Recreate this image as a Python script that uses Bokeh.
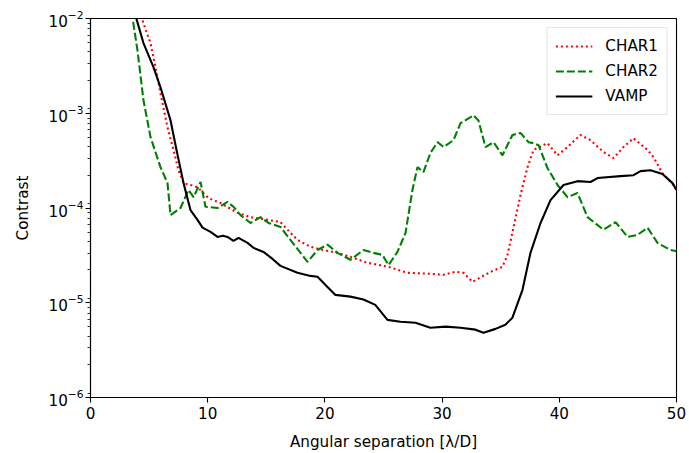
from bokeh.plotting import figure
from bokeh.models import Legend, LegendItem, LogTicker, FixedTicker
from bokeh.embed import file_html
from bokeh.resources import INLINE

# ---- data ----
vamp_x = [3.5, 4.52, 5.38, 5.97, 6.83, 7.34, 7.94, 8.53, 9.13, 9.56, 10.24, 10.84, 11.3, 11.69, 12.2,
          12.63, 13.4, 13.9, 14.76, 15.53, 16.21, 17.66, 18.77, 19.37, 20.22, 20.9, 22.18, 23.29, 24.3,
          25.34, 26.45, 27.73, 29.0, 30.3, 31.57, 32.85, 33.53, 34.56, 35.4, 36.0, 36.86, 37.54, 38.4,
          39.25, 40.36, 41.55, 42.66, 43.26, 45.22, 46.33, 46.93, 47.78, 48.8, 49.66, 50.0]
vamp_y = [1.5e-2, 5.5e-3, 3.05e-3, 1.88e-3, 8.4e-4, 4.1e-4, 1.83e-4, 9.5e-5, 7.5e-5, 6.2e-5, 5.6e-5,
          4.95e-5, 5.1e-5, 4.95e-5, 4.5e-5, 4.83e-5, 4.28e-5, 3.8e-5, 3.44e-5, 2.9e-5, 2.45e-5, 2.07e-5,
          1.92e-5, 1.88e-5, 1.47e-5, 1.21e-5, 1.16e-5, 1.08e-5, 9.5e-6, 6.6e-6, 6.3e-6, 6.15e-6, 5.45e-6,
          5.6e-6, 5.45e-6, 5.2e-6, 4.83e-6, 5.3e-6, 5.86e-6, 6.95e-6, 1.37e-5, 3.36e-5, 6.95e-5, 1.21e-4,
          1.75e-4, 1.92e-4, 1.88e-4, 2.07e-4, 2.17e-4, 2.22e-4, 2.45e-4, 2.5e-4, 2.28e-4, 1.83e-4, 1.55e-4]

char1_x = [4.2, 4.52, 5.12, 5.55, 5.97, 6.57, 7.08, 7.51, 7.94, 8.53, 9.13, 10.07, 11.09, 12.54, 13.65,
           15.1, 16.21, 16.81, 17.66, 18.77, 19.88, 21.08, 22.18, 23.63, 25.43, 27.05, 29.0, 30.12, 31.14,
           31.83, 32.59, 34.13, 35.15, 35.58, 36.09, 36.69, 37.29, 37.8, 38.99, 39.85, 40.7, 41.81, 42.66,
           43.77, 44.62, 45.48, 46.33, 47.53, 48.04, 48.8, 49.74, 50.0]
char1_y = [1.2e-2, 8.9e-3, 5.5e-3, 3.05e-3, 1.62e-3, 7.1e-4, 4.1e-4, 2.5e-4, 1.83e-4, 1.75e-4, 1.66e-4,
           1.27e-4, 1.13e-4, 8.9e-5, 8.0e-5, 7.5e-5, 7.1e-5, 5.9e-5, 4.6e-5, 3.9e-5, 3.6e-5, 3.36e-5,
           3.05e-5, 2.64e-5, 2.39e-5, 2.07e-5, 2.02e-5, 1.97e-5, 2.12e-5, 2.07e-5, 1.66e-5, 2.12e-5,
           2.39e-5, 3.2e-5, 6.2e-5, 1.37e-4, 2.7e-4, 4.1e-4, 4.83e-4, 3.6e-4, 4.4e-4, 5.9e-4, 5.2e-4,
           3.9e-4, 3.36e-4, 4.4e-4, 5.45e-4, 4.1e-4, 3.44e-4, 2.33e-4, 1.75e-4, 1.55e-4]

char2_x = [3.5, 3.58, 4.01, 4.52, 5.12, 5.97, 6.57, 6.83, 7.68, 8.36, 8.79, 9.39, 9.81, 10.84, 11.69,
           12.2, 12.8, 13.65, 14.5, 15.19, 16.21, 17.06, 17.92, 18.52, 19.37, 20.22, 21.08, 22.18, 23.29,
           24.15, 24.91, 25.43, 26.19, 26.88, 27.47, 27.9, 28.41, 29.0, 29.61, 30.12, 30.97, 31.57, 32.68,
           33.1, 33.7, 34.39, 35.15, 36.0, 36.69, 37.37, 37.8, 38.23, 38.99, 39.85, 40.7, 41.55, 42.41,
           43.77, 44.8, 45.82, 46.67, 47.53, 48.38, 49.49, 50.0]
char2_y = [1.2e-2, 1.02e-2, 4.6e-3, 1.37e-3, 5.6e-4, 2.7e-4, 1.83e-4, 8.4e-5, 1.0e-4, 1.55e-4, 1.3e-4,
           1.88e-4, 1.03e-4, 1.0e-4, 1.16e-4, 1.03e-4, 8.4e-5, 6.95e-5, 8.0e-5, 6.95e-5, 6.3e-5, 4.6e-5,
           3.36e-5, 2.7e-5, 3.6e-5, 4.1e-5, 3.36e-5, 2.84e-5, 3.6e-5, 3.36e-5, 3.2e-5, 2.5e-5, 3.44e-5,
           5.45e-5, 1.55e-4, 2.7e-4, 2.39e-4, 3.8e-4, 4.95e-4, 4.4e-4, 5.2e-4, 7.85e-4, 9.5e-4, 8.4e-4,
           4.4e-4, 4.95e-4, 3.6e-4, 5.9e-4, 6.2e-4, 4.95e-4, 4.83e-4, 4.6e-4, 2.64e-4, 1.75e-4, 1.3e-4,
           1.44e-4, 8.0e-5, 5.9e-5, 7.1e-5, 4.95e-5, 5.2e-5, 6.2e-5, 4.28e-5, 3.6e-5, 3.5e-5]

x_ticks = [0, 10, 20, 30, 40, 50]
series_names = ["CHAR1", "CHAR2", "VAMP"]

FONT = "DejaVu Sans"
FS = "15.2px"

p = figure(width=689, height=453, x_range=(0, 50), y_range=(1e-6, 1e-2), y_axis_type="log",
           output_backend="svg", toolbar_location=None,
           min_border_left=90, min_border_right=13, min_border_top=18, min_border_bottom=55)

p.xgrid.visible = False
p.ygrid.visible = False
p.outline_line_color = "black"
p.outline_line_width = 1.1
p.outline_line_alpha = 1.0

r1 = p.line(char1_x, char1_y, line_color="red", line_width=2.1, line_dash="2 3")
r2 = p.line(char2_x, char2_y, line_color="green", line_width=2.1, line_dash="8 3")
r3 = p.line(vamp_x, vamp_y, line_color="black", line_width=2.1)

p.xaxis.ticker = FixedTicker(ticks=x_ticks)
p.yaxis.ticker = LogTicker(num_minor_ticks=9)

for ax in (p.xaxis[0], p.yaxis[0]):
    ax.axis_line_color = "black"
    ax.axis_line_width = 1.1
    ax.major_tick_line_color = "black"
    ax.major_tick_line_width = 1.1
    ax.minor_tick_line_color = "black"
    ax.minor_tick_line_width = 0.8
    ax.major_tick_out = 5
    ax.major_tick_in = 0
    ax.minor_tick_out = 3
    ax.minor_tick_in = 0
    ax.major_label_text_font = FONT
    ax.major_label_text_font_size = FS
    ax.major_label_text_color = "black"
    ax.axis_label_text_font = FONT
    ax.axis_label_text_font_size = FS
    ax.axis_label_text_font_style = "normal"
    ax.axis_label_text_color = "black"

p.xaxis.axis_label = "Angular separation [λ/D]"
p.yaxis.axis_label = "Contrast"
p.xaxis.major_label_standoff = 4
p.xaxis.axis_label_standoff = 11
p.yaxis.major_label_standoff = 2
p.yaxis.axis_label_standoff = 14

legend = Legend(items=[LegendItem(label=series_names[0], renderers=[r1]),
                       LegendItem(label=series_names[1], renderers=[r2]),
                       LegendItem(label=series_names[2], renderers=[r3])],
                location="top_right")
legend.margin = 9
legend.padding = 8
legend.spacing = 5
legend.label_height = 20
legend.glyph_height = 20
legend.glyph_width = 37
legend.label_standoff = 13
legend.label_text_font = FONT
legend.label_text_font_size = FS
legend.label_text_color = "black"
legend.border_line_color = "#cccccc"
legend.border_line_width = 1
legend.background_fill_color = "white"
legend.background_fill_alpha = 0.8
p.add_layout(legend)

open("out.html", "w").write(file_html(p, INLINE))
